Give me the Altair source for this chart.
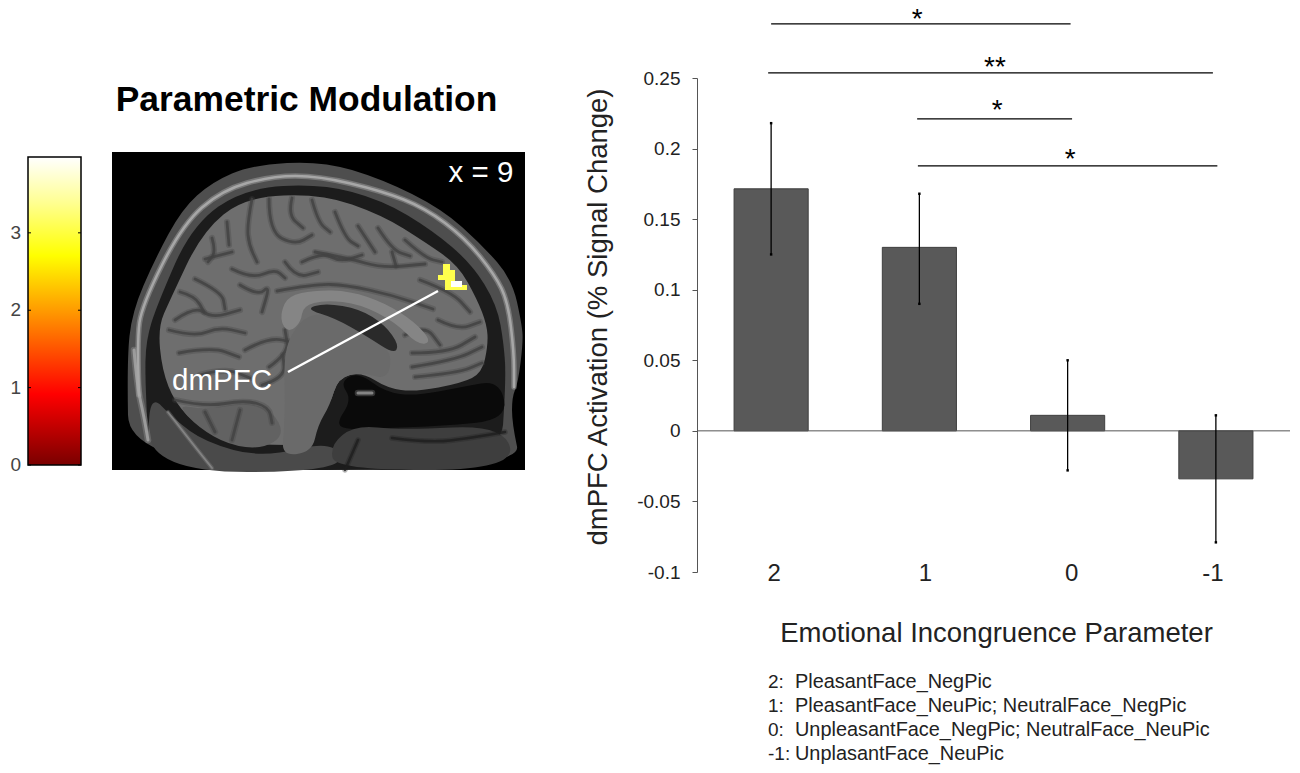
import altair as alt
import pandas as pd

# bar chart values
params = [0, 1, 2, 3]
param_labels = ["2", "1", "0", "-1"]
label_nudge = [3, 6, 4, -3]
means = [0.1715, 0.13, 0.011, -0.034]
err_hi = [0.218, 0.168, 0.05, 0.011]
err_lo = [0.125, 0.09, -0.028, -0.079]
y_ticks = [-0.1, -0.05, 0, 0.05, 0.1, 0.15, 0.2, 0.25]

# significance brackets, in axis units
br_start = [0.0, -0.02, 0.985, 0.99]
br_end = [2.02, 2.98, 2.03, 3.01]
br_y = [0.2884, 0.2537, 0.221, 0.1878]
star_x = [0.985, 1.51, 1.525, 2.017]
star_y = [0.2955, 0.2615, 0.231, 0.1963]
star_text = ["*", "**", "*", "*"]

key_prefix = ["2:", "1:", "0:", "-1:"]
key_text = [
    "PleasantFace_NegPic",
    "PleasantFace_NeuPic; NeutralFace_NegPic",
    "UnpleasantFace_NegPic; NeutralFace_NeuPic",
    "UnplasantFace_NeuPic",
]

# colour bar
cbar_ticks = [0, 1, 2, 3]
cbar_colors = [
    (0.0, "#7a0000"), (0.23, "#ff0000"), (0.5, "#ff9a00"),
    (0.68, "#ffff00"), (0.85, "#ffff90"), (1.0, "#ffffff"),
]

# brain picture outlines, in picture pixels
skin = [(129, 470), (127, 360), (132, 312), (155, 259), (182, 209), (212, 182), (252, 165), (322, 161),
        (382, 179), (442, 209), (482, 245), (512, 279), (522, 325), (523, 343), (518, 383), (512, 397),
        (512, 423), (522, 470)]
csf = [(150, 470), (145, 380), (146, 340), (157, 305), (192, 225), (245, 188), (322, 184), (382, 200),
       (432, 230), (472, 264), (497, 305), (504, 345), (506, 380), (500, 470)]
occiput = [(148, 392), (175, 420), (205, 442), (262, 458), (335, 440), (345, 472), (150, 472)]
brain = [(175, 403), (162, 370), (158, 327), (170, 300), (202, 232), (245, 197), (322, 194), (382, 215),
         (425, 242), (458, 265), (477, 299), (487, 325), (488, 345), (482, 373), (462, 383), (415, 392),
         (387, 388), (362, 372), (338, 378), (330, 405), (312, 425), (300, 445), (275, 445), (229, 443),
         (199, 427)]
neck = [(355, 425), (400, 430), (505, 425), (515, 470), (335, 470), (330, 445)]
sinus = [(340, 382), (358, 372), (385, 392), (415, 396), (462, 387), (500, 380), (508, 420), (440, 426),
         (385, 428), (352, 430), (335, 425), (352, 400)]
stem = [(290, 335), (310, 312), (345, 318), (372, 338), (392, 352), (388, 380), (362, 372), (338, 378),
        (330, 405), (318, 425), (312, 452), (282, 456), (284, 430), (285, 400), (284, 360)]
cerebellum = [(176, 404), (205, 410), (245, 402), (272, 410), (285, 435), (262, 449), (229, 445), (199, 428)]
callosum = [(281, 312), (288, 296), (315, 290), (350, 291), (385, 303), (415, 322), (432, 342), (418, 345),
            (395, 322), (360, 304), (325, 300), (303, 306), (301, 322), (290, 332), (282, 325)]
ventricle = [(305, 309), (325, 303), (360, 309), (385, 325), (399, 345), (394, 354), (368, 337), (335, 318)]
blob_yellow = "M443 264H450V270H455V281H462V285H467V290H445V280H438V275H443Z"
blob_white = "M451 281H462V287H451Z"
skull_line = [(139, 395), (137, 340), (142, 305), (182, 225), (222, 190), (272, 176), (319, 176), (382, 191),
              (425, 208), (465, 238), (495, 275), (508, 302), (514, 353), (514, 387)]
scalp_line = [(134, 350), (137, 385), (144, 417), (148, 440)]
jaw_line = [(168, 412), (192, 443), (212, 468)]
nose_spot = [(358, 393), (372, 393)]
neck_lines = [
    [(392, 438), (430, 443), (470, 438), (505, 432)],
    [(358, 440), (345, 470)],
]
sulci = [
    [(227, 222), (229, 245)],
    [(212, 238), (216, 252), (208, 262)],
    [(252, 199), (247, 225), (249, 245), (257, 262)],
    [(269, 199), (269, 232), (295, 245), (312, 235)],
    [(292, 198), (288, 215), (303, 228)],
    [(312, 200), (318, 222), (330, 232)],
    [(205, 259), (232, 252)],
    [(232, 269), (252, 279), (275, 269), (285, 278)],
    [(195, 279), (222, 292), (225, 309)],
    [(180, 292), (195, 296), (204, 312)],
    [(302, 262), (322, 252), (340, 262), (362, 255)],
    [(335, 212), (345, 238), (358, 246)],
    [(358, 226), (375, 252)],
    [(378, 228), (392, 250), (410, 256)],
    [(315, 252), (348, 258), (382, 268), (425, 264)],
    [(392, 252), (396, 266)],
    [(405, 240), (425, 258), (442, 262)],
    [(277, 291), (315, 284), (346, 285), (392, 295), (433, 309)],
    [(420, 280), (452, 292), (470, 312)],
    [(240, 285), (258, 296), (270, 285), (262, 312)],
    [(285, 262), (296, 278), (318, 272)],
    [(175, 320), (195, 306), (212, 318), (240, 310)],
    [(169, 330), (195, 337), (219, 327), (245, 333)],
    [(179, 353), (212, 347), (239, 357)],
    [(245, 350), (269, 337), (295, 343)],
    [(269, 367), (289, 353), (285, 330)],
    [(200, 375), (225, 368), (250, 378)],
    [(262, 385), (285, 378), (283, 355)],
    [(412, 353), (448, 353), (475, 337)],
    [(412, 367), (455, 360), (482, 347)],
    [(415, 377), (458, 373), (482, 363)],
    [(438, 320), (458, 330), (480, 322)],
    [(405, 335), (425, 325), (440, 345)],
    [(175, 400), (205, 407), (245, 400), (269, 407), (272, 423)],
    [(240, 410), (232, 440)],
    [(205, 412), (215, 432)],
]


def smooth(points, closed=False):
    # quadratic curves through the midpoints of the outline
    mids = [((a[0] + b[0]) / 2, (a[1] + b[1]) / 2) for a, b in zip(points, points[1:] + points[:1])]
    if closed:
        d = f"M{mids[-1][0]} {mids[-1][1]}"
        for p, m in zip(points, mids):
            d += f"Q{p[0]} {p[1]} {m[0]} {m[1]}"
        return d + "Z"
    d = f"M{points[0][0]} {points[0][1]}"
    for p, m in zip(points[1:-1], mids[1:-1]):
        d += f"Q{p[0]} {p[1]} {m[0]} {m[1]}"
    return d + f"L{points[-1][0]} {points[-1][1]}"


x_scale = alt.Scale(domain=[-0.5, 3.5], range=[689, 1282])
y_scale = alt.Scale(domain=[-0.1, 0.25], range=[564, 70])
cbar_scale = alt.Scale(domain=[0, 3.98], range=[457, 149])
FONT = "Liberation Sans"

one_row = pd.DataFrame({"a": [0]})
bars = pd.DataFrame({
    "p": params, "p0": [p - 0.25 for p in params], "p1": [p + 0.25 for p in params],
    "mean": means, "zero": [0] * 4, "hi": err_hi, "lo": err_lo,
})
brackets = pd.DataFrame({"x0": br_start, "x1": br_end, "y": br_y})
stars = pd.DataFrame({"x": star_x, "y": star_y, "t": star_text})
cbar_df = pd.DataFrame({"v": [0], "v1": [3.98]})
cbar_tick_df = pd.DataFrame({"v": cbar_ticks, "t": [str(t) for t in cbar_ticks]})


def px_x(name):
    return alt.X(name, scale=x_scale, axis=None)


def px_y(name):
    return alt.Y(name, scale=y_scale, axis=None)


def shape(path, **style):
    # path is in picture pixels; size 4 draws it at scale 1
    style.setdefault("opacity", 1)
    return alt.Chart(one_row).mark_point(shape=path, size=4, **style).encode(
        x=alt.value(-8), y=alt.value(-8)
    )


def fill(points, color, **style):
    return shape(smooth(points, closed=True), filled=True, fill=color, **style)


def soft_line(points, color, width, halo=0.3):
    # a wide faint stroke under a thin one, the scan is blurry
    path = smooth(points)
    return [
        shape(path, filled=False, stroke=color, strokeWidth=width * 2.2, opacity=halo, strokeCap="round"),
        shape(path, filled=False, stroke=color, strokeWidth=width, opacity=0.8, strokeCap="round"),
    ]


def text(t, x, y, size, color="black", **kw):
    return alt.Chart(pd.DataFrame({"t": [t]})).mark_text(
        font=FONT, fontSize=size, color=color, baseline="middle", **kw
    ).encode(x=alt.value(x - 8), y=alt.value(y - 8), text="t:N")


layers = []

# bars come first so that the single y axis sits on the left
layers.append(
    alt.Chart(bars).mark_rect(fill="#595959", stroke="#3f3f3f", strokeWidth=1).encode(
        x=px_x("p0:Q"), x2="p1:Q",
        y=alt.Y("mean:Q", scale=y_scale, axis=alt.Axis(
            orient="left", values=y_ticks, offset=-689, grid=False, labelExpr="'' + datum.value",
            domainColor="#555555", tickColor="#555555", tickSize=5,
            labelFont=FONT, labelFontSize=19, labelColor="#222222", labelPadding=12,
            title="dmPFC Activation (% Signal Change)", titleFont=FONT, titleFontSize=27.5,
            titleFontWeight="normal", titleColor="#222222", titleX=-90.5, titleY=308.5,
            titleBaseline="alphabetic",
        )),
        y2="zero:Q",
    )
)

# left side
layers.append(text("Parametric Modulation", 306.5, 100, 35.4, fontWeight="bold"))

layers.append(
    alt.Chart(cbar_df).mark_rect(
        stroke="black", strokeWidth=1.5,
        color=alt.Gradient(
            gradient="linear", x1=0, x2=0, y1=1, y2=0,
            stops=[alt.GradientStop(offset=o, color=c) for o, c in cbar_colors],
        ),
    ).encode(
        x=alt.value(20), x2=alt.value(73),
        y=alt.Y("v:Q", scale=cbar_scale, axis=None),
        y2="v1:Q",
    )
)
for x0, x1 in [(20, 23), (70, 73)]:
    layers.append(
        alt.Chart(cbar_tick_df).mark_rule(color="black", strokeWidth=1).encode(
            x=alt.value(x0), x2=alt.value(x1),
            y=alt.Y("v:Q", scale=cbar_scale, axis=None),
        )
    )
layers.append(
    alt.Chart(cbar_tick_df).mark_text(
        font=FONT, fontSize=19, color="#444444", align="right", baseline="middle"
    ).encode(x=alt.value(13), y=alt.Y("v:Q", scale=cbar_scale, axis=None), text="t:N")
)

layers.append(shape("M112 152H525V470H112Z", filled=True, fill="black"))
layers.append(fill(skin, "#4e4e4e"))
layers.append(fill(csf, "#1c1c1c"))
layers.append(fill(occiput, "#4a4a4a"))
layers += soft_line(skull_line, "#b4b4b4", 2.5, halo=0.4)
layers += soft_line(scalp_line, "#a8a8a8", 3)
layers.append(fill(brain, "#6e6e6e"))
layers.append(fill(cerebellum, "#626262"))
layers.append(fill(sinus, "#0a0a0a"))
layers.append(fill(neck, "#3e3e3e"))
for s in sulci:
    layers += soft_line(s, "#424242", 2.8)
layers.append(fill(callosum, "#858585"))
layers.append(fill(stem, "#6a6a6a"))
layers.append(fill(ventricle, "#2a2a2a"))
layers += soft_line(jaw_line, "#8c8c8c", 2)
layers += soft_line(nose_spot, "#9a9a9a", 3)
for s in neck_lines:
    layers += soft_line(s, "#1e1e1e", 2.5)
layers.append(shape(blob_yellow, filled=True, fill="#ffff4d"))
layers.append(shape(blob_white, filled=True, fill="white"))
layers.append(
    alt.Chart(one_row).mark_rule(color="white", strokeWidth=2.5).encode(
        x=alt.value(280), x2=alt.value(430), y=alt.value(364), y2=alt.value(283)
    )
)
layers.append(text("dmPFC", 222, 381, 29.5, color="white"))
layers.append(text("x = 9", 481, 173, 29.5, color="white"))

# right side
layers.append(
    alt.Chart(one_row).transform_calculate(x0="-0.5", x1="3.5", z="0").mark_rule(
        color="#555555", strokeWidth=1
    ).encode(x=px_x("x0:Q"), x2="x1:Q", y=px_y("z:Q"))
)
layers.append(
    alt.Chart(bars).mark_rule(color="black", strokeWidth=1.3).encode(
        x=px_x("p:Q"), y=px_y("lo:Q"), y2="hi:Q"
    )
)
for col in ["lo", "hi"]:
    layers.append(
        alt.Chart(bars).mark_point(shape="square", filled=True, size=6, color="black", opacity=1).encode(
            x=px_x("p:Q"), y=px_y(f"{col}:Q")
        )
    )
layers.append(
    alt.Chart(brackets).mark_rule(color="black", strokeWidth=1.3).encode(
        x=px_x("x0:Q"), x2="x1:Q", y=px_y("y:Q")
    )
)
layers.append(
    alt.Chart(stars).mark_text(font=FONT, fontSize=28, color="black", baseline="middle", dy=6).encode(
        x=px_x("x:Q"), y=px_y("y:Q"), text="t:N"
    )
)
for p, lab, nudge in zip(params, param_labels, label_nudge):
    layers.append(
        alt.Chart(pd.DataFrame({"p": [p], "t": [lab]})).mark_text(
            font=FONT, fontSize=24, color="#222222", baseline="middle", dx=nudge
        ).encode(x=px_x("p:Q"), y=alt.value(566), text="t:N")
    )
layers.append(text("Emotional Incongruence Parameter", 996.5, 634, 27.5, color="#222222"))
for i, (pre, body) in enumerate(zip(key_prefix, key_text)):
    row_y = 682 + i * 24
    layers.append(text(pre, 768, row_y, 19, color="#222222", align="left"))
    layers.append(text(body, 795, row_y, 19.9, color="#222222", align="left"))

chart = alt.layer(*layers).resolve_scale(
    x="independent", y="independent"
).properties(
    width=1284, height=757, padding=0, autosize=alt.AutoSizeParams(type="none")
).configure_view(strokeWidth=0)

chart.save("out.html", embed_options={"renderer": "svg", "actions": False})
